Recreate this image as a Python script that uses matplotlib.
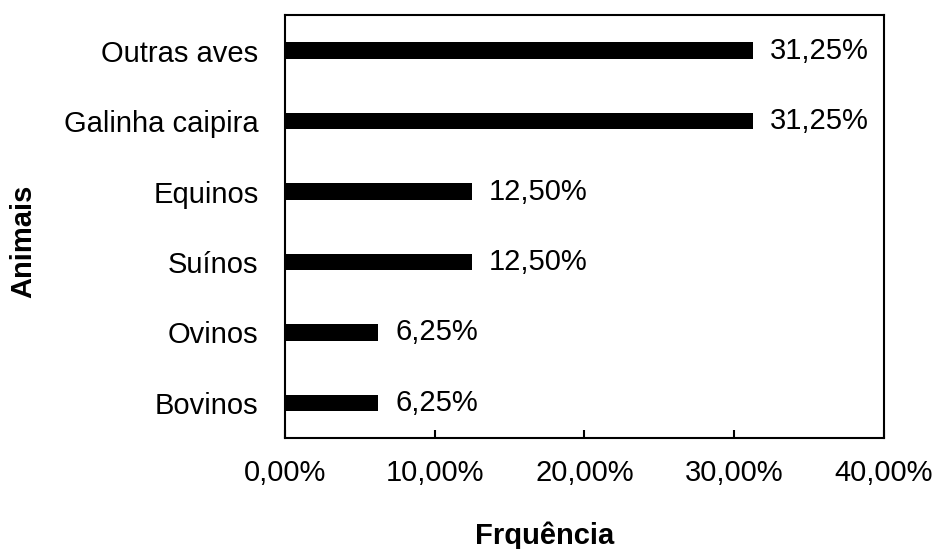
import matplotlib.pyplot as plt

plt.rcParams['font.family'] = ['Liberation Sans', 'DejaVu Sans']

# Data
animais = ["Bovinos", "Ovinos", "Suínos", "Equinos", "Galinha caipira", "Outras aves"]
frequencia = [6.25, 6.25, 12.50, 12.50, 31.25, 31.25]
xticks = [0, 10, 20, 30, 40]

FS = 21

fig = plt.figure(figsize=(9.34, 5.49), dpi=100)
ax = fig.add_axes([0.305, 0.2022, 0.6415, 0.7696])

ypos = range(len(animais))
ax.barh(ypos, frequencia, height=0.235, color='black')

for y, v in zip(ypos, frequencia):
    ax.annotate(f"{v:.2f}%".replace('.', ','), (v, y), xytext=(12, 0),
                textcoords='offset points', va='center', ha='left', fontsize=FS)

ax.set_xlim(0, 40)
ax.set_ylim(-0.5, len(animais) - 0.5)
ax.set_xticks(xticks)
ax.set_xticklabels([f"{t:.2f}%".replace('.', ',') for t in xticks], fontsize=FS)
ax.set_yticks(list(ypos))
ax.set_yticklabels(animais, fontsize=FS)

ax.tick_params(axis='x', direction='in', length=6, width=1.5, pad=15)
ax.tick_params(axis='y', length=0, pad=19)
for s in ax.spines.values():
    s.set_linewidth(1.5)

ax.set_xlabel("Frquência", fontsize=FS, fontweight='bold')
ax.xaxis.set_label_coords(0.434, -0.198)
ax.set_ylabel("Animais", fontsize=FS, fontweight='bold')
ax.yaxis.set_label_coords(-0.413, 0.466)

plt.savefig("out.png", dpi=100)
